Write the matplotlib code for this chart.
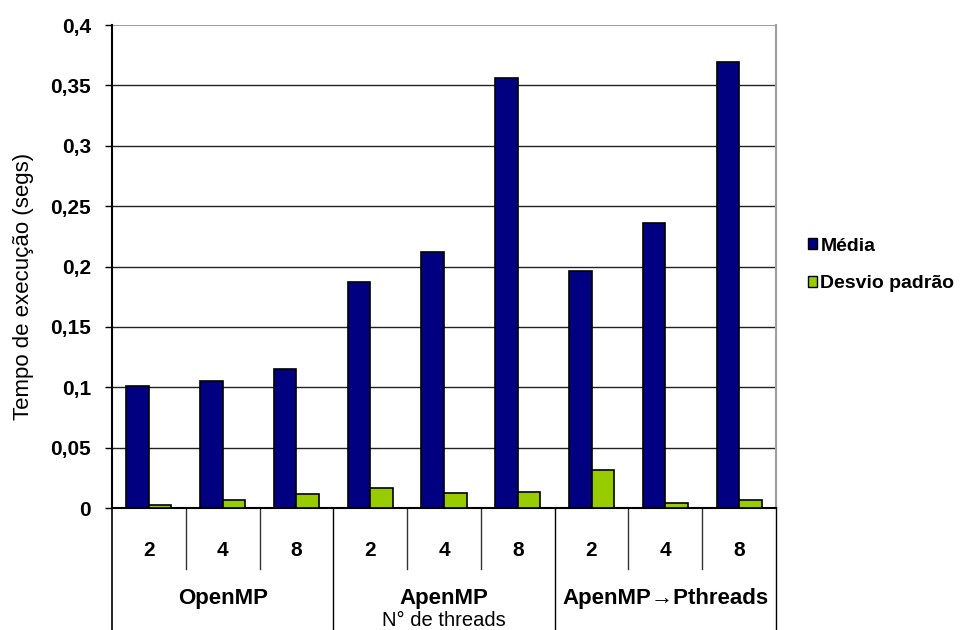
import matplotlib
matplotlib.use("Agg")
import matplotlib.pyplot as plt
from matplotlib.patches import Patch

plt.rcParams['font.family'] = ['Liberation Sans', 'DejaVu Sans']

# Data
groups = ["OpenMP", "ApenMP", "ApenMP\u2192Pthreads"]
threads = ["2", "4", "8"]
media = [0.101, 0.105, 0.115, 0.187, 0.212, 0.356, 0.196, 0.236, 0.369]
desvio = [0.0025, 0.0066, 0.0113, 0.0166, 0.0122, 0.0130, 0.0312, 0.0041, 0.0066]
series_names = ["Média", "Desvio padrão"]
yticks = [0, 0.05, 0.1, 0.15, 0.2, 0.25, 0.3, 0.35, 0.4]
ytick_labels = ["0", "0,05", "0,1", "0,15", "0,2", "0,25", "0,3", "0,35", "0,4"]
ylabel = "Tempo de execução (segs)"
xlabel = "N° de threads"

color_media = "#000080"
color_desvio = "#99CC00"

fig = plt.figure(figsize=(9.68, 6.3), dpi=100)
ax = fig.add_axes([112 / 968, 122 / 630, (776 - 112) / 968, (508 - 25) / 630])

n = len(media)
xs = list(range(n))
bw = 0.305
ax.bar([x - bw / 2 for x in xs], media, width=bw, color=color_media,
       edgecolor="black", linewidth=1.2, zorder=3)
ax.bar([x + bw / 2 for x in xs], desvio, width=bw, color=color_desvio,
       edgecolor="black", linewidth=1.2, zorder=3)

ax.set_xlim(-0.5, n - 0.5)
ax.set_ylim(0, 0.4)
ax.set_yticks(yticks)
ax.set_yticklabels(ytick_labels, fontsize=15, fontweight="bold")
ax.tick_params(axis="y", direction="out", length=5, width=1, pad=10, colors="black")
ax.set_xticks([])

# Horizontal gridlines
for y in yticks[1:-1]:
    ax.axhline(y, color="#222222", linewidth=1.0, zorder=1)
ax.axhline(0.4, color="#a0a0a0", linewidth=1.5, zorder=1)

ax.spines["top"].set_visible(False)
ax.spines["right"].set_color("#a0a0a0")
ax.spines["right"].set_linewidth(1.5)
ax.spines["left"].set_linewidth(1.5)
ax.spines["bottom"].set_linewidth(1.5)

ax.set_ylabel(ylabel, fontsize=16)
ax.yaxis.set_label_coords(-0.118, 0.458)

# Category axis: thread counts and group names below the plot
tr = ax.get_xaxis_transform()
for i in range(n + 1):
    xb = i - 0.5
    if i % 3 == 0:
        ax.plot([xb, xb], [0, -0.27], transform=tr, color="black",
                linewidth=1.2 if i == 0 else 1.0, clip_on=False)
    else:
        ax.plot([xb, xb], [0, -0.126], transform=tr, color="#333333",
                linewidth=1.0, clip_on=False)

for i in range(n):
    ax.text(i, -0.087, threads[i % 3], transform=tr, ha="center", va="center",
            fontsize=15, fontweight="bold")
for g, name in enumerate(groups):
    ax.text(3 * g + 1, -0.188, name, transform=tr, ha="center", va="center",
            fontsize=16, fontweight="bold")
ax.text(4, -0.245, xlabel, transform=tr, ha="center", va="baseline", fontsize=14.5)

# Legend
handles = [Patch(facecolor=color_media, edgecolor="black", linewidth=1),
           Patch(facecolor=color_desvio, edgecolor="black", linewidth=1)]
fig.legend(handles, series_names, loc="center left",
           bbox_to_anchor=(794 / 968, 1 - 265 / 630), frameon=False,
           prop={"size": 14, "weight": "bold"}, handlelength=0.5,
           handleheight=0.5, handletextpad=0.15, labelspacing=1.05,
           borderpad=0.2)

fig.savefig("out.png", dpi=100)
